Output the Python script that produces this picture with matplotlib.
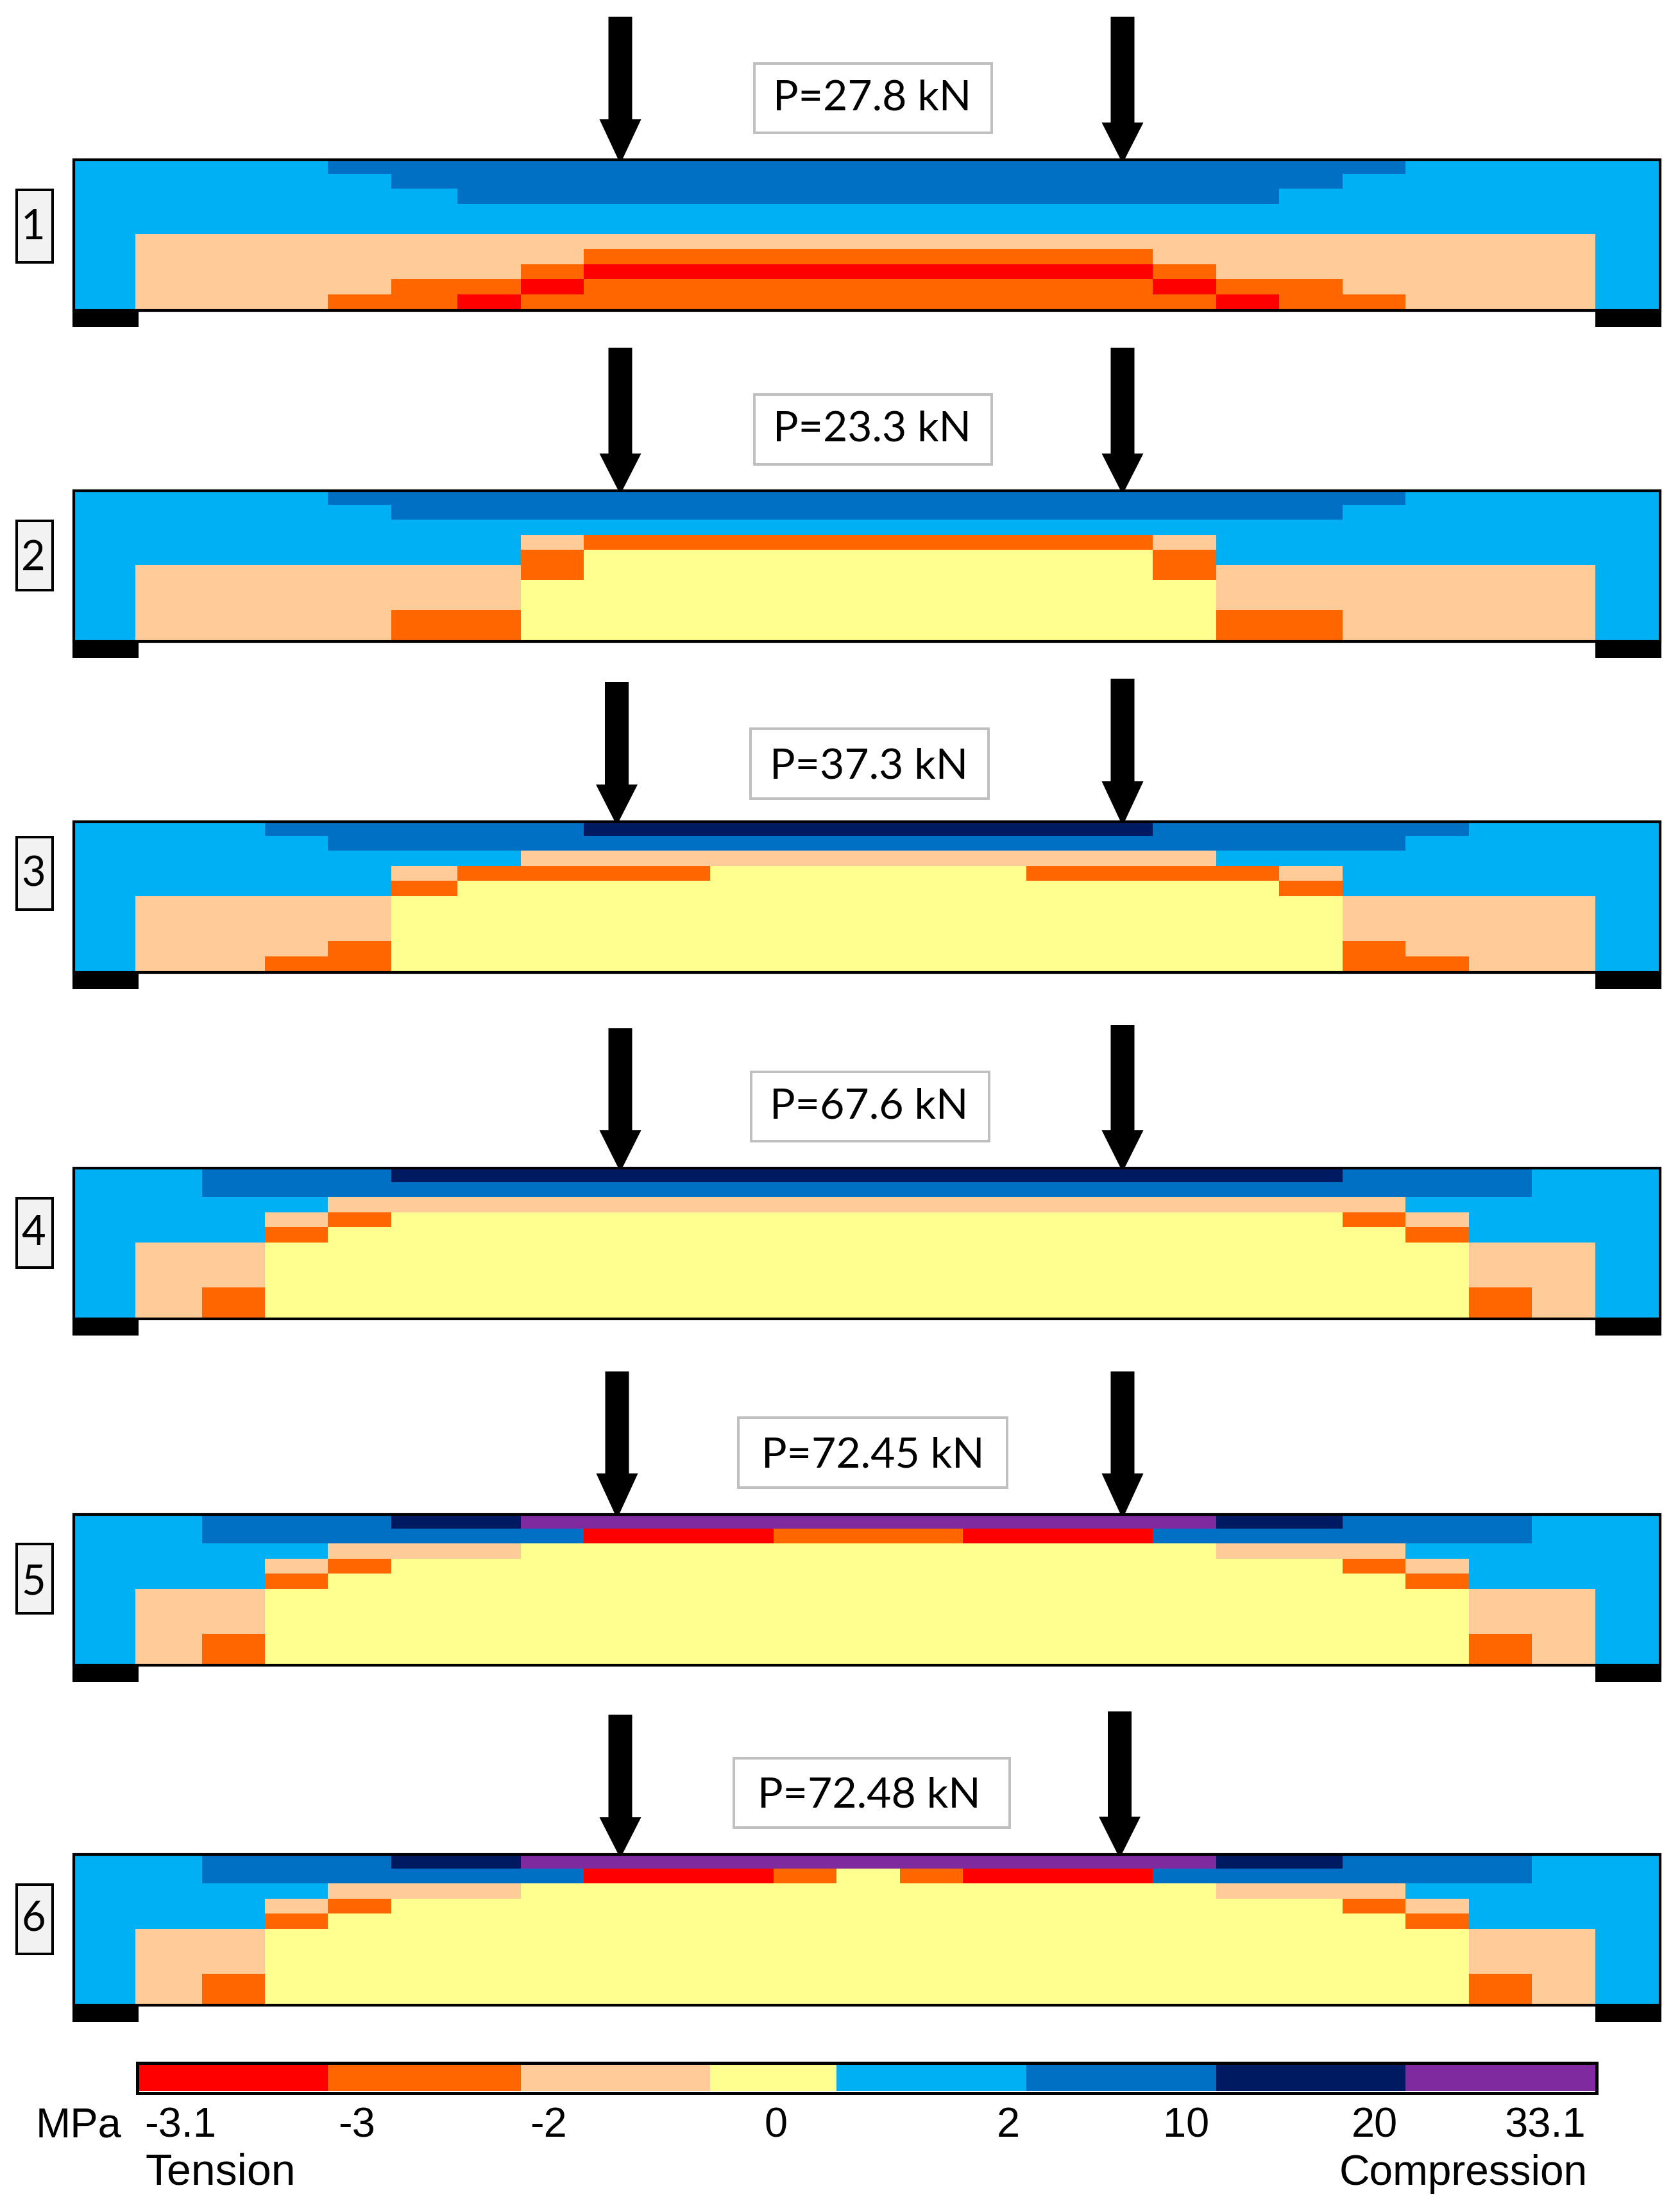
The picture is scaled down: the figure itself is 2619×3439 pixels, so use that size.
import matplotlib
matplotlib.use("Agg")
import matplotlib.pyplot as plt
from matplotlib.colors import ListedColormap, BoundaryNorm
from matplotlib.patches import Rectangle, Polygon
import numpy as np

# ---- data ----
CLASS_COLORS = ["#FF0000", "#FF6600", "#FFCC99", "#FFFF90",
                "#00B0F4", "#0070C4", "#001A62", "#802AA0"]
LEGEND_LABELS = ["-3.1", "-3", "-2", "0", "2", "10", "20", "33.1"]
LOADS = ["P=27.8 kN", "P=23.3 kN", "P=37.3 kN", "P=67.6 kN", "P=72.45 kN", "P=72.48 kN"]
PANEL_IDS = ["1", "2", "3", "4", "5", "6"]

PANEL_1 = ["4444555555555555555554444",
           "4444455555555555555544444",
           "4444445555555555555444444",
           "4444444444444444444444444",
           "4444444444444444444444444",
           "4222222222222222222222224",
           "4222222211111111122222224",
           "4222222100000000012222224",
           "4222211011111111101122224",
           "4222110111111111110112224"]
PANEL_2 = ["4444555555555555555554444",
           "4444455555555555555544444",
           "4444444444444444444444444",
           "4444444211111111124444444",
           "4444444133333333314444444",
           "4222222133333333312222224",
           "4222222333333333332222224",
           "4222222333333333332222224",
           "4222211333333333331122224",
           "4222211333333333331122224"]
PANEL_3 = ["4445555566666666655555444",
           "4444555555555555555554444",
           "4444444222222222224444444",
           "4444421111333331111244444",
           "4444413333333333333144444",
           "4222233333333333333322224",
           "4222233333333333333322224",
           "4222233333333333333322224",
           "4222133333333333333312224",
           "4221133333333333333311224"]
PANEL_4 = ["4455566666666666666655544",
           "4455555555555555555555544",
           "4444222222222222222224444",
           "4442133333333333333312444",
           "4441333333333333333331444",
           "4223333333333333333333224",
           "4223333333333333333333224",
           "4223333333333333333333224",
           "4213333333333333333333124",
           "4213333333333333333333124"]
PANEL_5 = ["4455566777777777776655544",
           "4455555500011100055555544",
           "4444222333333333332224444",
           "4442133333333333333312444",
           "4441333333333333333331444",
           "4223333333333333333333224",
           "4223333333333333333333224",
           "4223333333333333333333224",
           "4213333333333333333333124",
           "4213333333333333333333124"]
PANEL_6 = ["4455566777777777776655544",
           "4455555500013100055555544",
           "4444222333333333332224444",
           "4442133333333333333312444",
           "4441333333333333333331444",
           "4223333333333333333333224",
           "4223333333333333333333224",
           "4223333333333333333333224",
           "4213333333333333333333124",
           "4213333333333333333333124"]
PANELS = [PANEL_1, PANEL_2, PANEL_3, PANEL_4, PANEL_5, PANEL_6]

# ---- layout (figure pixels) ----
COL_EDGES = [113, 211, 315, 413, 511, 610, 713, 812, 910, 1009, 1107, 1206, 1304,
             1402.6, 1501, 1600, 1698, 1797, 1895.6, 1994, 2093, 2191, 2290, 2388, 2487, 2586]
FRAME_L, FRAME_R = 113, 2590
GRID_H = 235.5
FRAME_H = 239
SUPPORT_W = 103
SUPPORT_BELOW = 24
PANEL_TOPS = [247, 763, 1279, 1819, 2359, 2889]
ID_BOX_TOPS = [294, 810, 1303, 1866, 2405, 2936]
ID_BOX_BOTTOMS = [411, 922, 1420, 1978, 2517, 3048]
ID_BASELINES = [373, 889, 1382, 1941, 2485, 3010]
LOAD_BOXES = [(1174, 1548, 97, 209), (1174, 1548, 613, 726), (1168, 1543, 1134, 1247),
              (1169, 1544, 1669, 1781), (1149, 1572, 2208, 2321), (1142, 1576, 2739, 2851)]
LOAD_TEXT_XY = [(1205, 172), (1205, 688), (1200, 1213), (1200, 1744), (1187, 2288), (1181, 2818)]
# arrows: centre x, top y, head-start y
ARROWS_L = [(967, 26, 186), (967, 542, 707), (961.5, 1063, 1223),
            (967, 1603, 1762), (962, 2138, 2297), (967, 2673, 2833)]
ARROWS_R = [(1750, 26, 191), (1750, 542, 707), (1750, 1058, 1218),
            (1750, 1598, 1762), (1750, 2138, 2297), (1745.5, 2668, 2832)]

LEG_EDGES = [216, 511, 812, 1107, 1304, 1600, 1895.6, 2191, 2487]
LEG_BOX = (211, 2491, 3213, 3265)
LEG_INNER = (3218, 3260)
LEG_LABEL_X = [225, 527, 826, 1192, 1554, 1813, 2107, 2345]
LEG_BASE = 3331
FS = 46.8  # 65 px at dpi 100
FS_LOAD = 47.5

W, H = 2619, 3439
fig = plt.figure(figsize=(W / 100, H / 100), dpi=100, facecolor="white")
ax = fig.add_axes([0, 0, 1, 1])
ax.set_xlim(0, W)
ax.set_ylim(H, 0)
ax.axis("off")

cmap = ListedColormap(CLASS_COLORS)
norm = BoundaryNorm(np.arange(-0.5, 8.5), cmap.N)
PX = 0.72  # points per pixel


def rect_outline(x0, x1, y0, y1, px, edge, face="none", z=5):
    ax.add_patch(Rectangle((x0 + px / 2, y0 + px / 2), x1 - x0 - px, y1 - y0 - px,
                           facecolor=face, edgecolor=edge, linewidth=px * PX, zorder=z,
                           joinstyle="miter"))


def arrow(cx, top, head, tip):
    sw, hw, tw = 18.5, 32.5, 4
    ax.add_patch(Polygon([(cx - sw, top), (cx + sw, top), (cx + sw, head), (cx + hw, head),
                          (cx + tw, tip), (cx - tw, tip), (cx - hw, head), (cx - sw, head)],
                         closed=True, facecolor="black", edgecolor="none", zorder=6))


for i, rows in enumerate(PANELS):
    assert all(len(r) == 25 for r in rows) and len(rows) == 10
    grid = np.array([[int(c) for c in r] for r in rows])
    top = PANEL_TOPS[i]
    row_edges = np.linspace(top, top + GRID_H, 11)
    ax.pcolormesh(COL_EDGES, row_edges, grid, cmap=cmap, norm=norm,
                  antialiased=False, edgecolors="none", zorder=2)
    rect_outline(FRAME_L, FRAME_R, top, top + FRAME_H, 4.2, "black")
    sup_top = top + GRID_H
    sup_bot = top + FRAME_H + SUPPORT_BELOW
    ax.add_patch(Rectangle((FRAME_L, sup_top), SUPPORT_W, sup_bot - sup_top, fc="black", ec="none", zorder=6))
    ax.add_patch(Rectangle((FRAME_R - SUPPORT_W, sup_top), SUPPORT_W, sup_bot - sup_top, fc="black", ec="none", zorder=6))

    cx, t, h = ARROWS_L[i]
    arrow(cx, t, h, top)
    cx, t, h = ARROWS_R[i]
    arrow(cx, t, h, top)

    bx0, bx1, by0, by1 = LOAD_BOXES[i]
    rect_outline(bx0, bx1, by0, by1, 4, "#C0C0C0", "white")
    tx, ty = LOAD_TEXT_XY[i]
    ax.text(tx, ty, LOADS[i], fontsize=FS_LOAD, family="Lato", color="black",
            ha="left", va="baseline", zorder=7)

    t0, t1 = ID_BOX_TOPS[i], ID_BOX_BOTTOMS[i]
    rect_outline(24, 84, t0, t1, 4, "black", "#F2F2F2")
    ax.text(52, ID_BASELINES[i], PANEL_IDS[i], fontsize=FS, family="Lato", color="black",
            ha="center", va="baseline", zorder=7)

# legend
ax.pcolormesh(LEG_EDGES, LEG_INNER, np.arange(8).reshape(1, 8), cmap=cmap, norm=norm,
              antialiased=False, edgecolors="none", zorder=2)
rect_outline(LEG_BOX[0], LEG_BOX[1], LEG_BOX[2], LEG_BOX[3], 5, "black")
for x, lab in zip(LEG_LABEL_X, LEGEND_LABELS):
    ax.text(x, LEG_BASE, lab, fontsize=FS, family="Liberation Sans", ha="left", va="baseline", color="black")
ax.text(56, LEG_BASE, "MPa", fontsize=FS, family="Liberation Sans", ha="left", va="baseline", color="black")
ax.text(226, 3406, "Tension", fontsize=49, family="Liberation Sans", ha="left", va="baseline", color="black")
ax.text(2088, 3406, "Compression", fontsize=47.3, family="Liberation Sans", ha="left", va="baseline", color="black")

fig.savefig("out.png", dpi=100, facecolor="white")
